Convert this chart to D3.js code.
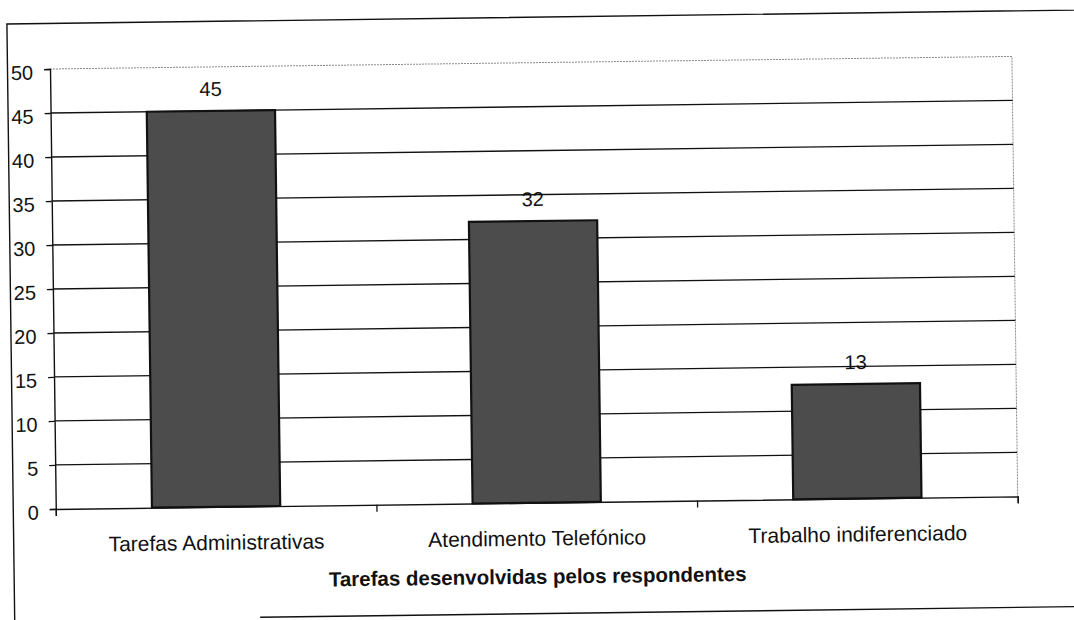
<!DOCTYPE html>
<html>
<head>
<meta charset="utf-8">
<script src="https://cdn.jsdelivr.net/npm/d3@7"></script>
<style>
	html, body { margin: 0; padding: 0; background: #fff; }
	svg { display: block; }
	text { font-family: "Liberation Sans", Arial, sans-serif; fill: #111; }
</style>
</head>
<body>
<div id="area"></div>
<script>

/**
* CHART DATA
* ==========
*/
var categories = ['Tarefas Administrativas', 'Atendimento Telefónico', 'Trabalho indiferenciado'];
var values = [45, 32, 13];
var y_ticks = [0, 5, 10, 15, 20, 25, 30, 35, 40, 45, 50];
var x_title = 'Tarefas desenvolvidas pelos respondentes';


/**
* drawChart
* =========
*
* Builds the bar chart. The whole picture is tilted a little,
* the way the scanned page is.
*/
var drawChart = function(){

	var width = 1074;
	var height = 620;
	var margin = {top: 69, left: 50};
	var plot_w = 962;
	var plot_h = 440;
	var ink = '#111';

	var svg = d3.select('#area').append('svg')
		.attr('width', width)
		.attr('height', height);

	var page = svg.append('g')
		.attr('transform', 'rotate(-0.75, ' + margin.left + ', ' + margin.top + ')');

	//Outer frame of the chart
	page.append('path')
		.attr('d', 'M 1200 23.5 L 7.5 23.5 L 7.5 700')
		.attr('fill', 'none')
		.attr('stroke', ink)
		.attr('stroke-width', 1.4);

	page.append('line')
		.attr('x1', 253).attr('x2', 1200)
		.attr('y1', 620).attr('y2', 620)
		.attr('stroke', ink)
		.attr('stroke-width', 1.4);

	var plot = page.append('g')
		.attr('transform', 'translate(' + margin.left + ', ' + margin.top + ')');

	//Scales
	var x = d3.scaleBand()
		.domain(categories)
		.range([0, plot_w])
		.paddingInner(0.6)
		.paddingOuter(0.3);

	var y = d3.scaleLinear()
		.domain([0, 50])
		.range([plot_h, 0]);

	//Plot area border, top and right (dotted grey)
	plot.append('path')
		.attr('d', 'M 0 ' + y(50) + ' L ' + plot_w + ' ' + y(50) + ' L ' + plot_w + ' ' + y(0))
		.attr('fill', 'none')
		.attr('stroke', '#8a8a8a')
		.attr('stroke-width', 1)
		.attr('stroke-dasharray', '2,1');

	//Gridlines
	plot.selectAll('.grid')
		.data(y_ticks.filter(function(d){ return d > 0 && d < 50; }))
		.enter()
		.append('line')
		.attr('class', 'grid')
		.attr('x1', 0).attr('x2', plot_w)
		.attr('y1', function(d){ return y(d); })
		.attr('y2', function(d){ return y(d); })
		.attr('stroke', ink)
		.attr('stroke-width', 1.3);

	//Y axis
	var y_axis = plot.append('g')
		.call(d3.axisLeft(y).tickValues(y_ticks).tickSize(6).tickPadding(11));
	y_axis.select('.domain').attr('stroke', ink).attr('stroke-width', 1.4);
	y_axis.selectAll('.tick line').attr('stroke', ink).attr('stroke-width', 1.3);
	y_axis.selectAll('.tick text')
		.attr('font-size', 20)
		.attr('dy', '0.5em')
		.style('font-family', '"Liberation Sans", Arial, sans-serif')
		.attr('fill', ink);

	//Bars
	plot.selectAll('.bar')
		.data(values)
		.enter()
		.append('rect')
		.attr('class', 'bar')
		.attr('x', function(d, i){ return x(categories[i]); })
		.attr('y', function(d){ return y(d); })
		.attr('width', x.bandwidth())
		.attr('height', function(d){ return y(0) - y(d); })
		.attr('fill', '#4c4c4c')
		.attr('stroke', ink)
		.attr('stroke-width', 2.2);

	//Value labels
	plot.selectAll('.value')
		.data(values)
		.enter()
		.append('text')
		.attr('class', 'value')
		.attr('x', function(d, i){ return x(categories[i]) + x.bandwidth() / 2; })
		.attr('y', function(d){ return y(d) - 15; })
		.attr('text-anchor', 'middle')
		.attr('font-size', 20)
		.text(function(d){ return d; });

	//X axis with ticks between categories
	var x_edges = d3.scaleLinear().domain([0, categories.length]).range([0, plot_w]);
	var x_axis = plot.append('g')
		.attr('transform', 'translate(0, ' + plot_h + ')')
		.call(d3.axisBottom(x_edges).tickValues(d3.range(categories.length + 1)).tickSize(7).tickFormat(''));
	x_axis.select('.domain').attr('stroke', ink).attr('stroke-width', 1.4);
	x_axis.selectAll('.tick line').attr('stroke', ink).attr('stroke-width', 1.3);

	//Category labels
	plot.selectAll('.cat')
		.data(categories)
		.enter()
		.append('text')
		.attr('class', 'cat')
		.attr('x', function(d){ return x(d) + x.bandwidth() / 2; })
		.attr('y', plot_h + 43)
		.attr('text-anchor', 'middle')
		.attr('font-size', 21)
		.text(function(d){ return d; });

	//Axis title
	plot.append('text')
		.attr('x', plot_w / 2)
		.attr('y', plot_h + 81)
		.attr('text-anchor', 'middle')
		.attr('font-size', 20.5)
		.attr('font-weight', 'bold')
		.text(x_title);
}

drawChart();

</script>
</body>
</html>
